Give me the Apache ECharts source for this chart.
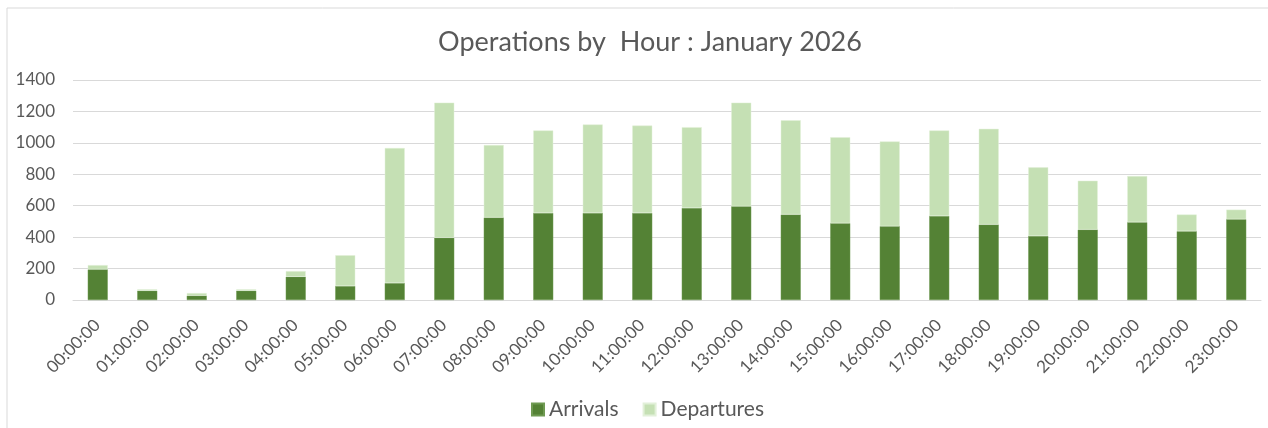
<!DOCTYPE html>
<html>
<head>
<meta charset="utf-8">
<script src="https://cdn.jsdelivr.net/npm/echarts@6/dist/echarts.min.js"></script>
<style>
  html, body { margin: 0; padding: 0; background: #fff; }
  #chart { width: 1268px; height: 428px; }
</style>
</head>
<body>
<div id="chart"></div>
<script>
// hours of the day
var hours = ['00:00:00', '01:00:00', '02:00:00', '03:00:00', '04:00:00', '05:00:00',
  '06:00:00', '07:00:00', '08:00:00', '09:00:00', '10:00:00', '11:00:00',
  '12:00:00', '13:00:00', '14:00:00', '15:00:00', '16:00:00', '17:00:00',
  '18:00:00', '19:00:00', '20:00:00', '21:00:00', '22:00:00', '23:00:00'];
var arrivals = [195, 59, 28, 59, 148, 89, 108, 396, 525, 554, 554, 554,
  586, 596, 544, 489, 470, 535, 480, 408, 448, 495, 438, 514];
var departures = [27, 9, 16, 9, 36, 196, 859, 860, 461, 525, 563, 556,
  514, 660, 600, 547, 539, 544, 609, 436, 311, 294, 106, 61];

var font = 'Lato, "Open Sans", sans-serif';
var grey = '#595959';

var myChart = echarts.init(document.getElementById('chart'));
myChart.setOption({
  animation: false,
  textStyle: { fontFamily: font },
  title: {
    text: 'Operations by  Hour : January 2026',
    left: 645,
    top: 24,
    textAlign: 'center',
    textStyle: { fontSize: 27, fontWeight: 'normal', color: grey, fontFamily: font }
  },
  graphic: [{
    // chart area border (cut off at right / bottom in the original)
    type: 'rect',
    shape: { x: 7, y: 8, width: 1300, height: 500 },
    style: { fill: 'none', stroke: '#d9d9d9', lineWidth: 1 },
    silent: true
  }],
  legend: {
    left: 526,
    top: 394,
    itemWidth: 12,
    itemHeight: 12,
    itemGap: 24,
    icon: 'rect',
    textStyle: { fontSize: 21, color: grey },
    data: ['Arrivals', 'Departures']
  },
  grid: { left: 73, right: 7, top: 80, bottom: 128 },
  xAxis: {
    type: 'category',
    data: hours,
    axisLine: { lineStyle: { color: '#d9d9d9' } },
    axisTick: { show: false },
    axisLabel: {
      rotate: 45,
      interval: 0,
      margin: 10,
      fontSize: 17,
      color: grey,
      align: 'right',
      verticalAlign: 'top',
      padding: [0, 9, 0, 0]
    }
  },
  yAxis: {
    type: 'value',
    min: 0,
    max: 1400,
    interval: 200,
    axisLine: { show: false },
    axisTick: { show: false },
    axisLabel: {
      fontSize: 17,
      color: grey,
      margin: 18,
      formatter: function (v) { return String(v); }
    },
    splitLine: { lineStyle: { color: '#d9d9d9', width: 1 } }
  },
  series: [
    {
      name: 'Arrivals',
      type: 'bar',
      stack: 'ops',
      barWidth: 20,
      itemStyle: { color: '#548235', borderColor: '#6f9a52', borderWidth: 0.5 },
      data: arrivals
    },
    {
      name: 'Departures',
      type: 'bar',
      stack: 'ops',
      barWidth: 20,
      itemStyle: { color: '#c5e0b4', borderColor: '#e2f0d9', borderWidth: 0.5 },
      data: departures
    }
  ]
});
window.addEventListener('resize', function () {
  myChart.resize();
});
</script>
</body>
</html>
